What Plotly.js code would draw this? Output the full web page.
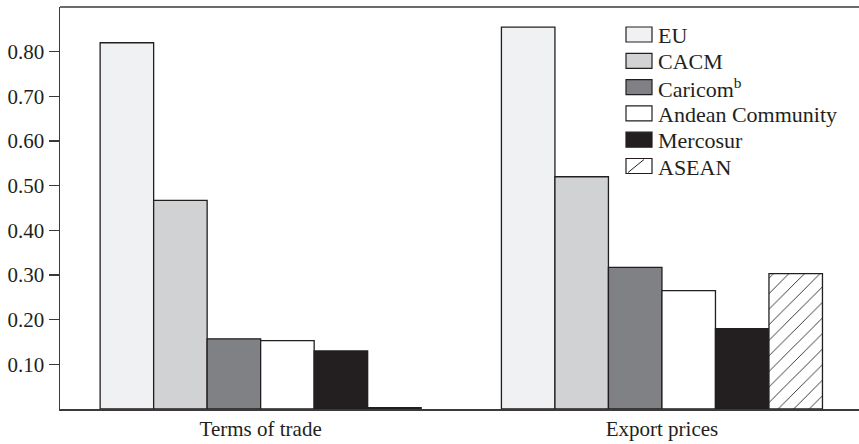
<!DOCTYPE html>
<html>
<head>
<meta charset="utf-8">
<script src="https://cdn.plot.ly/plotly-3.0.1.min.js"></script>
<style>html,body{margin:0;padding:0;background:#fff;}#chart{width:859px;height:444px;}</style>
</head>
<body>
<div id="chart"></div>
<script>
// ---- data ----
var categories = ["Terms of trade", "Export prices"];
var seriesNames = ["EU", "CACM", "Caricom<sup>b</sup>", "Andean Community", "Mercosur", "ASEAN"];
var euValues = [0.82, 0.855];
var cacmValues = [0.467, 0.52];
var caricomValues = [0.157, 0.317];
var andeanValues = [0.153, 0.265];
var mercosurValues = [0.13, 0.18];
var aseanValues = [0.003, 0.303];
var yTickValues = [0.1, 0.2, 0.3, 0.4, 0.5, 0.6, 0.7, 0.8];
var yTickLabels = ["0.10", "0.20", "0.30", "0.40", "0.50", "0.60", "0.70", "0.80"];

// ---- styles ----
var fills = ["#f0f1f3", "#d1d2d4", "#808184", "#ffffff", "#231f20", "#ffffff"];
var edge = "#231f20";
var allValues = [euValues, cacmValues, caricomValues, andeanValues, mercosurValues, aseanValues];

var traces = allValues.map(function (vals, i) {
  var m = { color: fills[i], line: { color: edge, width: 1.3 } };
  if (i === 5) {
    m.pattern = { shape: "/", fgcolor: edge, bgcolor: "#ffffff", size: 11, solidity: 0.08 };
  }
  return { type: "bar", name: seriesNames[i], x: categories, y: vals, marker: m, showlegend: false, hoverinfo: "skip" };
});

// plot geometry (pixels)
var W = 859, H = 444, ML = 60, MR = 0, MT = 7, MB = 35;
var PW = W - ML - MR, PH = H - MT - MB;
function px2x(px) { return (px - ML) / PW; }
function py2y(py) { return (H - MB - py) / PH; }

var shapes = [
  // top frame line
  { type: "line", xref: "paper", yref: "paper", x0: 0, x1: 1.01, y0: 1, y1: 1, line: { color: "#3a3a3a", width: 1.5 } }
];
var annotations = [];
var legendTop = 34.5, legendStep = 26.3, boxL = 626, boxR = 652, boxH = 15;
seriesNames.forEach(function (name, i) {
  var cy = legendTop + i * legendStep;
  shapes.push({ type: "rect", xref: "paper", yref: "paper",
    x0: px2x(boxL), x1: px2x(boxR), y0: py2y(cy + boxH / 2), y1: py2y(cy - boxH / 2),
    fillcolor: fills[i], line: { color: edge, width: 1.2 } });
  if (i === 5) {
    shapes.push({ type: "line", xref: "paper", yref: "paper",
      x0: px2x(boxL + 2), x1: px2x(boxR - 8), y0: py2y(cy + boxH / 2 - 1), y1: py2y(cy - boxH / 2 + 1),
      line: { color: edge, width: 1 } });
  }
  annotations.push({ xref: "paper", yref: "paper", x: px2x(656), y: py2y(cy + 1), xanchor: "left", yanchor: "middle",
    text: name, showarrow: false, font: { family: "Liberation Serif, serif", size: 22, color: "#231f20" } });
});

var layout = {
  width: W, height: H,
  margin: { l: ML, r: MR, t: MT, b: MB, pad: 0 },
  paper_bgcolor: "#ffffff", plot_bgcolor: "#ffffff",
  barmode: "group", bargap: 0.2, bargroupgap: 0,
  font: { family: "Liberation Serif, serif", size: 21, color: "#231f20" },
  xaxis: {
    type: "category", range: [-0.5, -0.5 + PW / 401.3],
    showline: true, linecolor: "#3a3a3a", linewidth: 1.5,
    ticks: "", showgrid: false, zeroline: false,
    tickfont: { family: "Liberation Serif, serif", size: 21, color: "#231f20" }
  },
  yaxis: {
    range: [0, 0.9], showline: true, linecolor: "#3a3a3a", linewidth: 1.5,
    ticks: "outside", ticklen: 10, tickcolor: "#3a3a3a", tickwidth: 1.3,
    tickvals: yTickValues, ticktext: yTickLabels,
    showgrid: false, zeroline: false,
    tickfont: { family: "Liberation Serif, serif", size: 21, color: "#231f20" }
  },
  shapes: shapes,
  annotations: annotations
};

Plotly.newPlot("chart", traces, layout, { displayModeBar: false, staticPlot: true });
</script>
</body>
</html>
